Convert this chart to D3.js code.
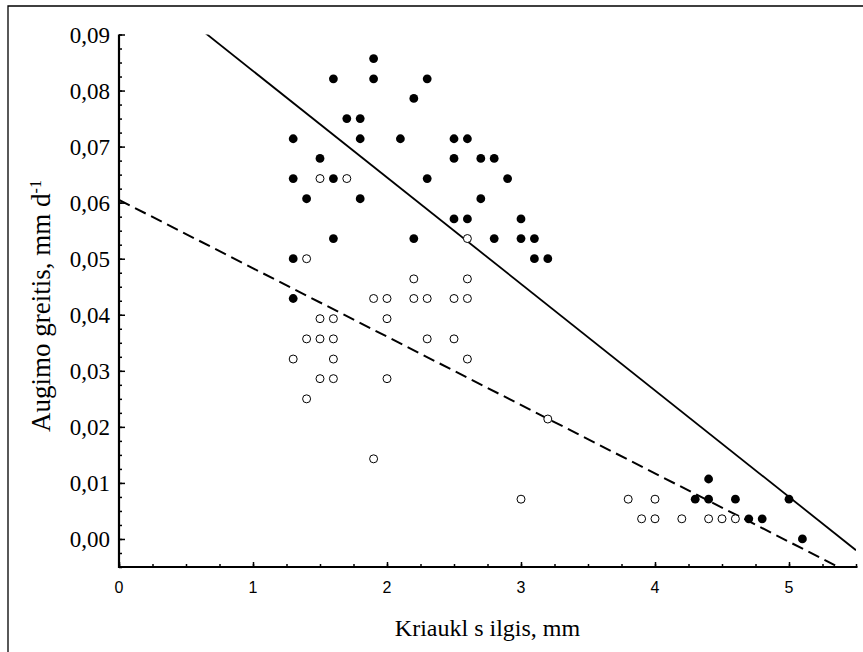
<!DOCTYPE html>
<html>
<head>
<meta charset="utf-8">
<script src="https://cdn.jsdelivr.net/npm/d3@7"></script>
<style>
    body { margin: 0; background: #fff; }
    .frame { fill: none; stroke: #000; stroke-width: 1.3; }
    .ytick text { font-family: "Liberation Serif", "Times New Roman", serif; font-size: 23px; fill: #000; }
    .xtick text { font-family: "Liberation Sans", Arial, sans-serif; font-size: 16px; fill: #000; }
    .title { font-family: "Liberation Serif", "Times New Roman", serif; fill: #000; }
</style>
</head>
<body>
<script>
//filled dots (shell length, mm ; growth rate, mm/d)
var filledX = [1.9, 1.6, 1.9, 2.3, 2.2, 1.7, 1.8, 1.3, 1.8, 2.1, 2.5, 2.6, 1.5, 2.5, 2.7, 2.8,
               1.3, 1.6, 2.3, 2.9, 1.4, 1.8, 2.7, 2.5, 2.6, 3.0, 1.6, 2.2, 2.8, 3.0, 3.1,
               1.3, 3.1, 3.2, 1.3, 4.4, 4.3, 4.4, 4.6, 5.0, 4.7, 4.8, 5.1];
var filledY = [0.0857, 0.0821, 0.0821, 0.0821, 0.0786, 0.0750, 0.0750, 0.0714, 0.0714, 0.0714, 0.0714, 0.0714, 0.0679, 0.0679, 0.0679, 0.0679,
               0.0643, 0.0643, 0.0643, 0.0643, 0.0607, 0.0607, 0.0607, 0.0571, 0.0571, 0.0571, 0.0536, 0.0536, 0.0536, 0.0536, 0.0536,
               0.0500, 0.0500, 0.0500, 0.0429, 0.0107, 0.0071, 0.0071, 0.0071, 0.0071, 0.0036, 0.0036, 0.0000];

//open circles
var openX = [1.5, 1.7, 2.6, 1.4, 2.2, 2.6, 1.9, 2.0, 2.2, 2.3, 2.5, 2.6,
             1.5, 1.6, 2.0, 1.4, 1.5, 1.6, 2.3, 2.5, 1.3, 1.6, 2.6,
             1.5, 1.6, 2.0, 1.4, 3.2, 1.9, 3.0, 3.8, 4.0,
             3.9, 4.0, 4.2, 4.4, 4.5, 4.6];
var openY = [0.0643, 0.0643, 0.0536, 0.0500, 0.0464, 0.0464, 0.0429, 0.0429, 0.0429, 0.0429, 0.0429, 0.0429,
             0.0393, 0.0393, 0.0393, 0.0357, 0.0357, 0.0357, 0.0357, 0.0357, 0.0321, 0.0321, 0.0321,
             0.0286, 0.0286, 0.0286, 0.0250, 0.0214, 0.0143, 0.0071, 0.0071, 0.0071,
             0.0036, 0.0036, 0.0036, 0.0036, 0.0036, 0.0036];

//regression lines: [intercept, slope]
var solidFit = [0.1025, -0.0190];
var dashedFit = [0.0605, -0.0122];

//axis ticks
var xTicks = [0, 1, 2, 3, 4, 5];
var yTicks = [0.00, 0.01, 0.02, 0.03, 0.04, 0.05, 0.06, 0.07, 0.08, 0.09];
var xDomain = [0, 5.5];
var yDomain = [-0.005, 0.09];

window.onload = drawChart();

function drawChart(){

    var width = 863,
        height = 652;

    var svg = d3.select("body")
        .append("svg")
        .attr("width", width)
        .attr("height", height);

    //outer frame (only left and top edges show)
    svg.append("path")
        .attr("class", "frame")
        .attr("d", "M8," + height + "V6H" + width);

    var x = d3.scaleLinear().domain(xDomain).range([119, 856]);
    var y = d3.scaleLinear().domain(yDomain).range([567, 34.5]);

    //minor tick values
    var xMinor = d3.range(0, 5.5001, 0.25);
    var yMinor = d3.range(-0.005, 0.09001, 0.0025);

    //x axis, ticks point inward
    var xg = svg.append("g").attr("transform", "translate(0," + y(yDomain[0]) + ")");
    xg.call(d3.axisTop(x).tickValues(xMinor).tickSize(3).tickFormat(""))
        .call(function(g){ g.select(".domain").remove(); });
    xg.append("g")
        .call(d3.axisTop(x).tickValues(xTicks).tickSize(5).tickFormat(""))
        .call(function(g){ g.select(".domain").remove(); });
    xg.append("line")
        .attr("x1", x(0) - 1).attr("x2", x(5.5) + 1.5)
        .attr("stroke", "#000").attr("stroke-width", 2.2);
    xg.selectAll(".tick line").attr("stroke-width", 1.5);
    xg.append("g")
        .attr("class", "xtick")
        .selectAll("text")
        .data(xTicks)
        .enter()
        .append("text")
        .attr("x", function(d){ return x(d); })
        .attr("y", 26)
        .attr("text-anchor", "middle")
        .text(function(d){ return d; });

    //y axis, ticks point inward
    var yg = svg.append("g").attr("transform", "translate(" + x(0) + ",0)");
    yg.call(d3.axisRight(y).tickValues(yMinor).tickSize(3).tickFormat(""))
        .call(function(g){ g.select(".domain").remove(); });
    yg.append("g")
        .call(d3.axisRight(y).tickValues(yTicks).tickSize(6).tickFormat(""))
        .call(function(g){ g.select(".domain").remove(); });
    yg.append("line")
        .attr("y1", y(0.09)).attr("y2", y(yDomain[0]) + 1)
        .attr("stroke", "#000").attr("stroke-width", 2.2);
    yg.selectAll(".tick line").attr("stroke-width", 1.5);
    yg.append("g")
        .attr("class", "ytick")
        .selectAll("text")
        .data(yTicks)
        .enter()
        .append("text")
        .attr("x", -9)
        .attr("y", function(d){ return y(d); })
        .attr("dy", "0.35em")
        .attr("text-anchor", "end")
        .text(function(d){ return d3.format(".2f")(d).replace(".", ","); });

    //clip for the fitted lines
    svg.append("clipPath")
        .attr("id", "plot")
        .append("rect")
        .attr("x", x(0)).attr("y", y(0.09))
        .attr("width", x(5.5) - x(0)).attr("height", y(yDomain[0]) - y(0.09));

    var line = d3.line()
        .x(function(d){ return x(d[0]); })
        .y(function(d){ return y(d[1]); });

    function fitPoints(fit){
        return xDomain.map(function(v){ return [v, fit[0] + fit[1] * v]; });
    }

    svg.append("path")
        .datum(fitPoints(solidFit))
        .attr("clip-path", "url(#plot)")
        .attr("d", line)
        .attr("fill", "none")
        .attr("stroke", "#000")
        .attr("stroke-width", 1.8);

    svg.append("path")
        .datum(fitPoints(dashedFit))
        .attr("clip-path", "url(#plot)")
        .attr("d", line)
        .attr("fill", "none")
        .attr("stroke", "#000")
        .attr("stroke-width", 2)
        .attr("stroke-dasharray", "12,6");

    //open circles
    svg.selectAll(".open")
        .data(d3.zip(openX, openY))
        .enter()
        .append("circle")
        .attr("class", "open")
        .attr("cx", function(d){ return x(d[0]); })
        .attr("cy", function(d){ return y(d[1]); })
        .attr("r", 4)
        .attr("fill", "#fff")
        .attr("stroke", "#000")
        .attr("stroke-width", 1);

    //filled dots
    svg.selectAll(".filled")
        .data(d3.zip(filledX, filledY))
        .enter()
        .append("circle")
        .attr("class", "filled")
        .attr("cx", function(d){ return x(d[0]); })
        .attr("cy", function(d){ return y(d[1]); })
        .attr("r", 4.4)
        .attr("fill", "#000");

    //axis titles
    svg.append("text")
        .attr("class", "title")
        .attr("x", (x(0) + x(5.5)) / 2)
        .attr("y", 636)
        .attr("text-anchor", "middle")
        .style("font-size", "24px")
        .text("Kriaukl s ilgis, mm");

    var yt = svg.append("text")
        .attr("class", "title")
        .attr("transform", "translate(50,306) rotate(-90)")
        .attr("text-anchor", "middle")
        .style("font-size", "27px");
    yt.append("tspan").text("Augimo greitis, mm d");
    yt.append("tspan")
        .attr("dy", "-0.55em")
        .style("font-size", "16px")
        .text("-1");
};
</script>
</body>
</html>
